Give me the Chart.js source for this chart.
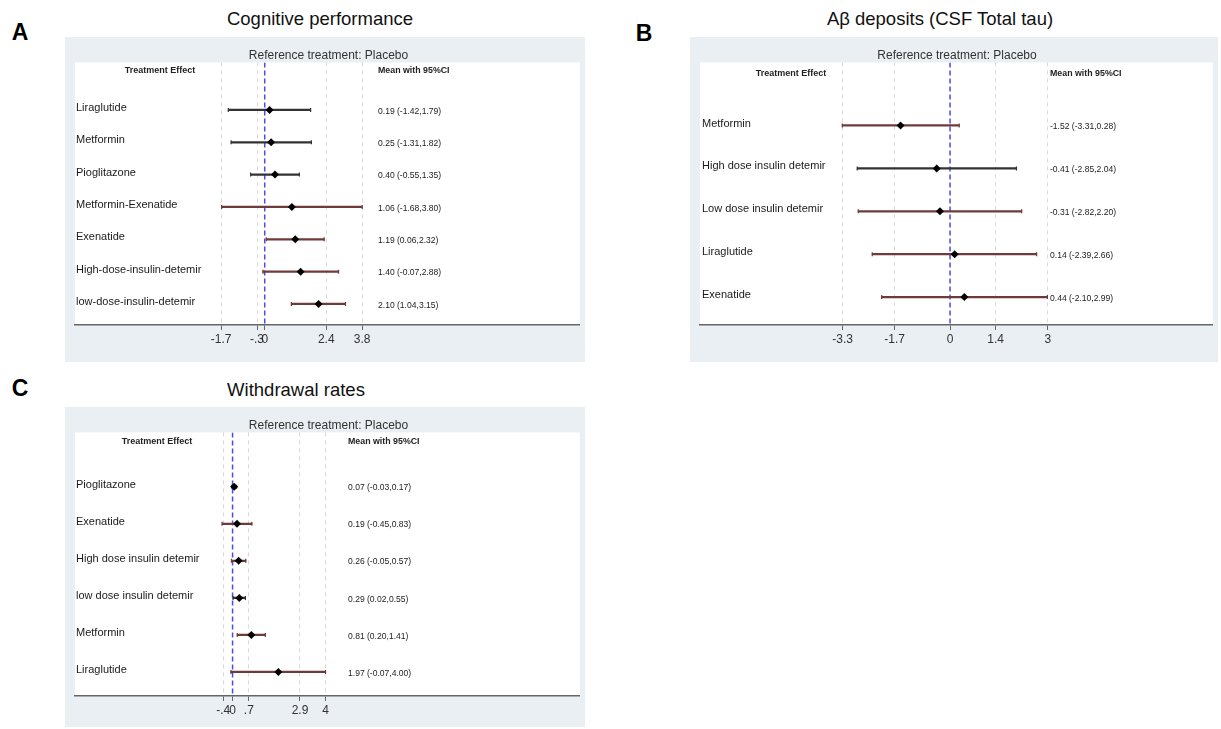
<!DOCTYPE html>
<html>
<head>
<meta charset="utf-8">
<script src="https://cdn.jsdelivr.net/npm/chart.js@4.4.1/dist/chart.umd.min.js"></script>
<style>
  body { margin: 0; background: #fff; font-family: 'Liberation Sans', Arial, sans-serif; }
  #page { position: relative; width: 1221px; height: 729px; overflow: hidden; }
  .panel { position: absolute; background: #e9eff2; }
  .title { position: absolute; font-size: 18.5px; color: #111; transform: translate(-50%, -50%); white-space: nowrap; }
  .letter { position: absolute; font-size: 23px; font-weight: bold; color: #000; transform: translate(-50%, -50%); }
</style>
</head>
<body>
<div id="page">
  <div class="letter" style="left:20px;top:32px">A</div>
  <div class="title" style="left:320px;top:19px">Cognitive performance</div>
  <canvas id="chartA" class="panel" width="520" height="325" style="left:65px;top:37px"></canvas>

  <div class="letter" style="left:644px;top:33px">B</div>
  <div class="title" style="left:940px;top:19px">Aβ deposits (CSF Total tau)</div>
  <canvas id="chartB" class="panel" width="528" height="325" style="left:690px;top:37px"></canvas>

  <div class="letter" style="left:20px;top:388px">C</div>
  <div class="title" style="left:296px;top:390px">Withdrawal rates</div>
  <canvas id="chartC" class="panel" width="520" height="320" style="left:65px;top:407px"></canvas>
</div>

<script>
// A - cognitive performance
var treatmentsA = ['Liraglutide', 'Metformin', 'Pioglitazone', 'Metformin-Exenatide', 'Exenatide', 'High-dose-insulin-detemir', 'low-dose-insulin-detemir'];
var meanA  = [0.19, 0.25, 0.40, 1.06, 1.19, 1.40, 2.10];
var lowerA = [-1.42, -1.31, -0.55, -1.68, 0.06, -0.07, 1.04];
var upperA = [1.79, 1.82, 1.35, 3.80, 2.32, 2.88, 3.15];
var ticksA = [-1.7, -0.3, 0, 2.4, 3.8];
var tickLabelsA = ['-1.7', '-.3', '0', '2.4', '3.8'];

// B - Abeta deposits (CSF total tau)
var treatmentsB = ['Metformin', 'High dose insulin detemir', 'Low dose insulin detemir', 'Liraglutide', 'Exenatide'];
var meanB  = [-1.52, -0.41, -0.31, 0.14, 0.44];
var lowerB = [-3.31, -2.85, -2.82, -2.39, -2.10];
var upperB = [0.28, 2.04, 2.20, 2.66, 2.99];
var ticksB = [-3.3, -1.7, 0, 1.4, 3];
var tickLabelsB = ['-3.3', '-1.7', '0', '1.4', '3'];

// C - withdrawal rates
var treatmentsC = ['Pioglitazone', 'Exenatide', 'High dose insulin detemir', 'low dose insulin detemir', 'Metformin', 'Liraglutide'];
var meanC  = [0.07, 0.19, 0.26, 0.29, 0.81, 1.97];
var lowerC = [-0.03, -0.45, -0.05, 0.02, 0.20, -0.07];
var upperC = [0.17, 0.83, 0.57, 0.55, 1.41, 4.00];
var ticksC = [-0.4, 0, 0.7, 2.9, 4];
var tickLabelsC = ['-.4', '0', '.7', '2.9', '4'];

var FONT = "'Liberation Sans', Arial, sans-serif";
var MAROON = '#6e3a3a';
var DARK = '#333333';
var colorsA = [DARK, DARK, DARK, MAROON, MAROON, MAROON, MAROON];
var colorsB = [MAROON, DARK, MAROON, MAROON, MAROON];
var colorsC = [DARK, MAROON, MAROON, DARK, MAROON, MAROON];

Chart.defaults.font.family = FONT;

function drawText(ctx, str, x, y, font, color, align, sx) {
    ctx.save();
    ctx.font = font;
    ctx.fillStyle = color;
    ctx.textBaseline = 'middle';
    ctx.textAlign = align;
    ctx.translate(x, y);
    ctx.scale(sx, 1);
    ctx.fillText(str, 0, 0);
    ctx.restore();
}

function makeForest(id, p) {
    var n = p.names.length;
    var yMin = -1.47, yMax = n - 1 + 0.65, headY = -1.22;

    var bars = p.names.map(function (_, i) { return { x: [p.lower[i], p.upper[i]], y: i }; });
    var points = p.mean.map(function (v, i) { return { x: v, y: i }; });
    var caps = [], capColors = [];
    p.names.forEach(function (_, i) {
        caps.push({ x: p.lower[i], y: i }, { x: p.upper[i], y: i });
        capColors.push(p.colors[i], p.colors[i]);
    });

    var forestText = {
        id: 'forestText',
        beforeDraw: function (chart) {
            var a = chart.chartArea, ctx = chart.ctx;
            ctx.save();
            ctx.fillStyle = '#ffffff';
            ctx.fillRect(a.left, a.top, a.right - a.left, a.bottom - a.top);
            ctx.restore();
        },
        afterDatasetsDraw: function (chart) {
            var a = chart.chartArea, ctx = chart.ctx, ys = chart.scales.y;
            var hy = ys.getPixelForValue(headY);
            drawText(ctx, 'Treatment Effect', a.left + p.headX, hy, 'bold 9px ' + FONT, '#222', 'center', 1);
            drawText(ctx, 'Mean with 95%CI', a.left + p.valueX, hy, 'bold 9px ' + FONT, '#222', 'left', 0.98);
            p.names.forEach(function (name, i) {
                var py = ys.getPixelForValue(i);
                drawText(ctx, name, a.left + p.nameX, py - 2, '11px ' + FONT, '#1a1a1a', 'left', 1);
                var s = p.mean[i].toFixed(2) + ' (' + p.lower[i].toFixed(2) + ',' + p.upper[i].toFixed(2) + ')';
                drawText(ctx, s, a.left + p.valueX, py + 1, '9.5px ' + FONT, '#222', 'left', 0.9);
            });
        }
    };

    return new Chart(document.getElementById(id), {
        type: 'scatter',
        data: {
            datasets: [
                {
                    type: 'scatter', data: points, order: 0,
                    pointStyle: 'rectRot', pointRadius: 4, pointBackgroundColor: '#000', pointBorderColor: '#000', pointBorderWidth: 0
                },
                {
                    type: 'scatter', data: caps, order: 1,
                    pointStyle: 'line', pointRotation: 90, pointRadius: 2, pointBorderColor: capColors, pointBorderWidth: 1.2
                },
                {
                    type: 'bar', indexAxis: 'y', data: bars, order: 2,
                    backgroundColor: p.colors, barThickness: 1.6, borderWidth: 0, grouped: false
                },
                {
                    type: 'line', data: [{ x: 0, y: yMin }, { x: 0, y: yMax }], order: 3,
                    borderColor: '#4a4af0', borderDash: [5, 3], borderWidth: 1.5, pointRadius: 0, fill: false
                }
            ]
        },
        options: {
            responsive: false,
            animation: false,
            devicePixelRatio: 1,
            layout: { padding: { left: 10, right: p.padRight, top: 0, bottom: 0 } },
            plugins: {
                legend: { display: false },
                tooltip: { enabled: false },
                title: {
                    display: true,
                    text: 'Reference treatment: Placebo',
                    color: '#333',
                    font: { size: 12, weight: 'normal', family: FONT },
                    padding: { top: 11, bottom: 0 }
                }
            },
            scales: {
                x: {
                    type: 'linear', min: p.xMin, max: p.xMax, offset: false,
                    afterBuildTicks: function (s) { s.ticks = p.ticks.map(function (v) { return { value: v }; }); },
                    afterFit: function (s) { s.height = p.axisHeight; },
                    ticks: {
                        autoSkip: false, maxRotation: 0, padding: 2, color: '#333',
                        font: { size: 12, family: FONT },
                        callback: function (v, i) { return p.tickLabels[i]; }
                    },
                    grid: {
                        color: function (c) { return c.tick && c.tick.value === 0 ? 'rgba(0,0,0,0)' : '#dadada'; },
                        lineWidth: 1, tickLength: 5, tickColor: '#666', offset: false
                    },
                    border: { display: true, color: '#666', width: 1.5, dash: [4, 4] }
                },
                y: {
                    type: 'linear', reverse: true, min: yMin, max: yMax, display: false, offset: false,
                    grid: { offset: false }
                }
            }
        },
        plugins: [forestText]
    });
}

makeForest('chartA', {
    names: treatmentsA, mean: meanA, lower: lowerA, upper: upperA, colors: colorsA,
    ticks: ticksA, tickLabels: tickLabelsA,
    xMin: -7.40, xMax: 12.29, padRight: 3, axisHeight: 37,
    nameX: 1, headX: 85, valueX: 303
});

makeForest('chartB', {
    names: treatmentsB, mean: meanB, lower: lowerB, upper: upperB, colors: colorsB,
    ticks: ticksB, tickLabels: tickLabelsB,
    xMin: -7.68, xMax: 8.07, padRight: 4, axisHeight: 37,
    nameX: 2, headX: 91, valueX: 350
});

makeForest('chartC', {
    names: treatmentsC, mean: meanC, lower: lowerC, upper: upperC, colors: colorsC,
    ticks: ticksC, tickLabels: tickLabelsC,
    xMin: -6.78, xMax: 14.94, padRight: 3, axisHeight: 31,
    nameX: 1, headX: 82, valueX: 273
});
</script>
</body>
</html>
